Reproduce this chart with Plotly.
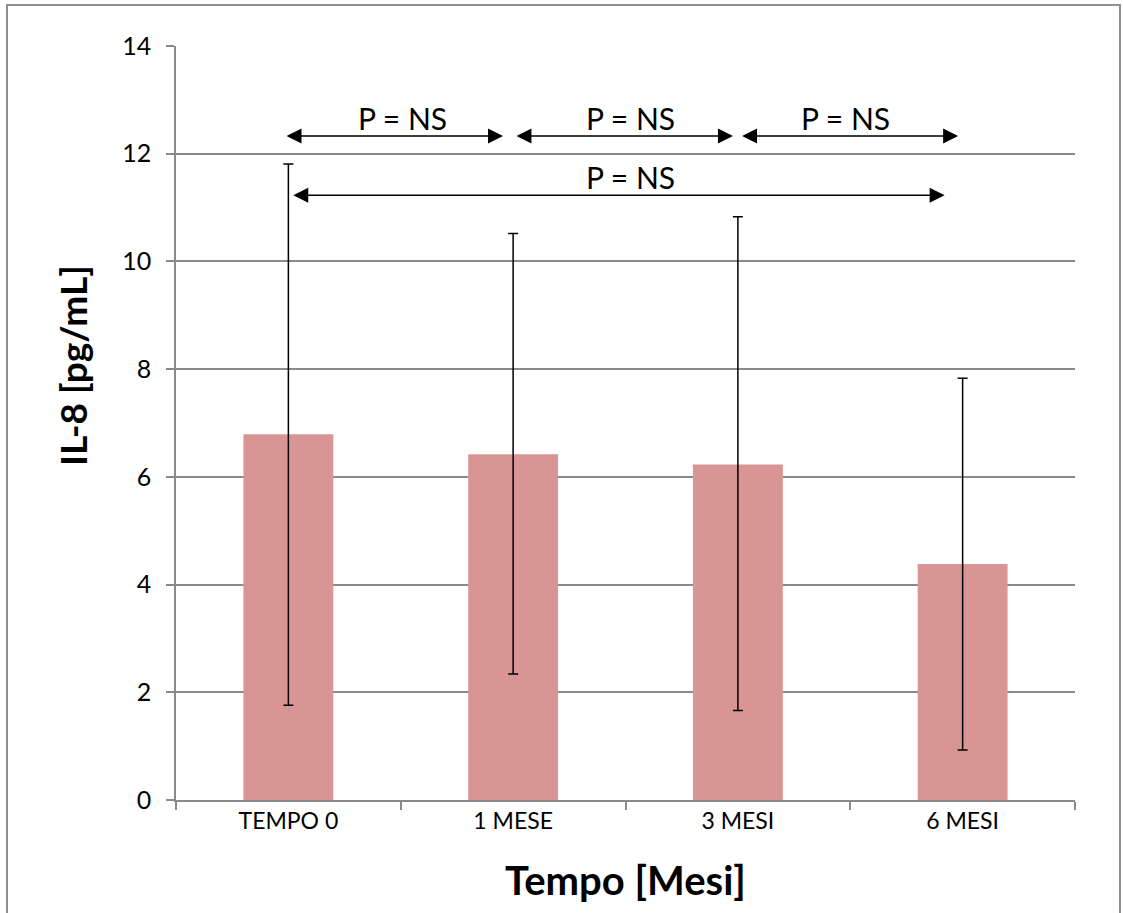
import plotly.graph_objects as go

# ---- data ----
categories = ["TEMPO 0", "1 MESE", "3 MESI", "6 MESI"]
means = [6.79, 6.42, 6.23, 4.38]
upper = [11.81, 10.52, 10.83, 7.83]
lower = [1.76, 2.34, 1.66, 0.93]

# comparison arrows (category index units) and their labels
cmp_start = [-0.015, 1.008, 2.012, 0.015]
cmp_end = [0.955, 1.978, 2.98, 2.92]
cmp_y = [12.33, 12.33, 12.33, 11.23]
cmp_text_x = [0.506, 1.52, 2.48, 1.52]
cmp_labels = ["P = NS", "P = NS", "P = NS", "P = NS"]

y_ticks = [0, 2, 4, 6, 8, 10, 12, 14]
x_title = "Tempo [Mesi]"
y_title = "IL-8 [pg/mL]"

FONT = "Lato"
GRID = "#8a8a8a"

err_plus = [u - m for u, m in zip(upper, means)]
err_minus = [m - l for m, l in zip(means, lower)]

fig = go.Figure()
fig.add_trace(go.Bar(
    x=categories, y=means,
    marker=dict(color="#D99594", line=dict(width=0)),
    error_y=dict(type="data", symmetric=False, array=err_plus, arrayminus=err_minus,
                 color="black", thickness=1.5, width=5),
    showlegend=False,
))

annotations = []
for s, e, yv in zip(cmp_start, cmp_end, cmp_y):
    annotations.append(dict(
        x=e, y=yv, ax=s, ay=yv, xref="x", yref="y", axref="x", ayref="y",
        text="", showarrow=True, arrowhead=2, startarrowhead=2, arrowside="end+start",
        arrowsize=2, startarrowsize=2, arrowwidth=1.5, arrowcolor="black",
        standoff=0, startstandoff=0,
    ))
for tx, yv, lab in zip(cmp_text_x, cmp_y, cmp_labels):
    annotations.append(dict(
        x=tx, y=yv, xref="x", yref="y", text=lab, showarrow=False,
        yanchor="bottom", yshift=-2,
        font=dict(family=FONT, size=30, color="black"),
    ))
# y-axis title (placed above the plot's vertical centre, as in the reference)
annotations.append(dict(
    x=(72 - 176) / 899, y=(800 - 366) / 754, xref="paper", yref="paper",
    text="<b>" + y_title + "</b>", textangle=-90, showarrow=False,
    xanchor="center", yanchor="middle",
    font=dict(family=FONT, size=37, color="black"),
))

fig.update_layout(
    width=1123, height=913,
    margin=dict(l=176, r=48, t=46, b=113),
    paper_bgcolor="white", plot_bgcolor="white",
    bargap=0.6,
    font=dict(family=FONT, color="black"),
    annotations=annotations,
    shapes=[dict(type="rect", xref="paper", yref="paper",
                 x0=(7 - 176) / 899, x1=(1120 - 176) / 899,
                 y0=(800 - 920) / 754, y1=(800 - 5) / 754,
                 line=dict(color="#8f8f8f", width=2), fillcolor="rgba(0,0,0,0)", layer="below")],
)
fig.update_xaxes(
    range=[-0.5, 3.5], showline=True, linecolor=GRID, linewidth=1.5,
    ticks="outside", tickson="boundaries", ticklen=8, tickcolor=GRID, tickwidth=1.5,
    showgrid=False, tickfont=dict(family=FONT, size=23, color="black"),
    title=dict(text="<b>" + x_title + "</b>", font=dict(family=FONT, size=40, color="black"), standoff=34),
)
fig.update_yaxes(
    range=[0, 14], tickvals=y_ticks, showline=True, linecolor=GRID, linewidth=1.5,
    ticks="outside", ticklen=8, tickcolor=GRID, tickwidth=1.5,
    showgrid=True, gridcolor=GRID, gridwidth=1.5, zeroline=False,
    tickfont=dict(family=FONT, size=25, color="black"), ticklabelstandoff=10,
)

fig.write_html("out.html")
